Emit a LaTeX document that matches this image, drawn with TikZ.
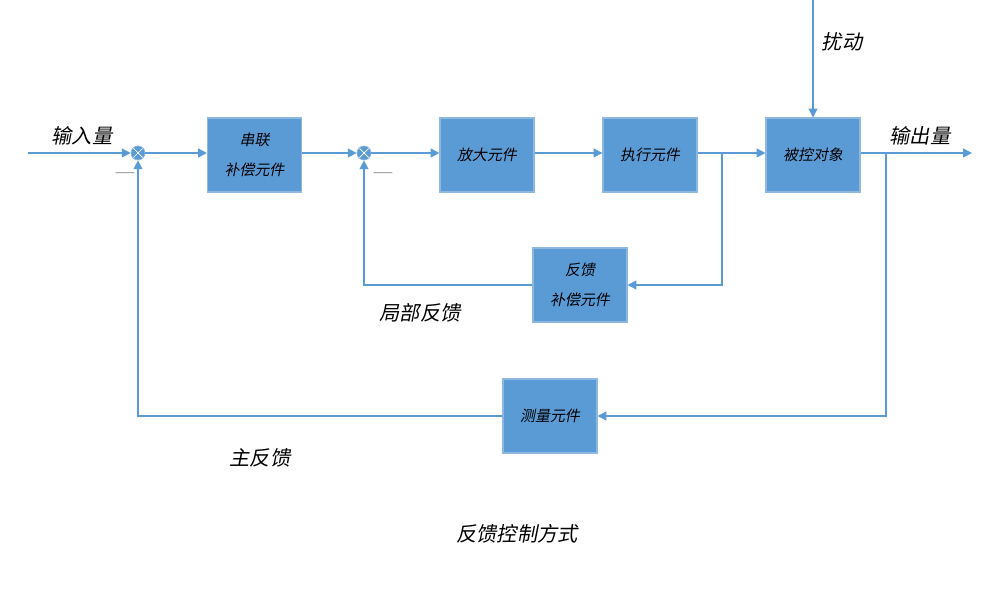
\documentclass[tikz,border=0pt]{standalone}
\usepackage{fontspec}
\newfontfamily\cjk{Noto Sans CJK SC}[FakeSlant=0.2]
\usetikzlibrary{arrows.meta}
\definecolor{bl}{HTML}{5B9BD5}
\definecolor{bd}{HTML}{8FB8E0}
\begin{document}
\begin{tikzpicture}[x=0.02cm,y=-0.02cm,
 blk/.style={draw=bd,fill=bl,line width=0.6pt,minimum width=1.88cm,minimum height=1.48cm,align=center,font=\cjk\fontsize{8.5}{17}\selectfont,inner sep=0},
 sum/.style={circle,fill=bl,draw=bd,minimum size=0.28cm,inner sep=0,path picture={\draw[white,line width=0.4pt](path picture bounding box.north west)--(path picture bounding box.south east)(path picture bounding box.north east)--(path picture bounding box.south west);}},
 ln/.style={draw=bl,line width=0.8pt},
 ar/.style={ln,-{Triangle[length=5pt,width=5pt]}},
 lab/.style={font=\cjk\fontsize{11.5}{13}\selectfont}]
\useasboundingbox (0,0) rectangle (1000,601);
\node[sum] (s1) at (138,153) {};
\node[sum] (s2) at (364,153) {};
\node[blk] (b1) at (254.5,155) {串联\\补偿元件};
\node[blk] (b2) at (487,155) {放大元件};
\node[blk] (b3) at (650,155) {执行元件};
\node[blk] (b4) at (813,155) {被控对象};
\node[blk] (b5) at (580,285) {反馈\\补偿元件};
\node[blk] (b6) at (550,416) {测量元件};
\coordinate (in) at (28,153);
\coordinate (out) at (972,153);
\coordinate (dtop) at (813,0);
\coordinate (j1) at (722,153);
\coordinate (j2) at (886,153);
\draw[ar] (in) -- (s1);
\draw[ar] (s1) -- (b1.west|-s1);
\draw[ar] (b1.east|-s2) -- (s2);
\draw[ar] (s2) -- (b2.west|-s2);
\draw[ar] (b2.east|-s2) -- (b3.west|-s2);
\draw[ar] (b3.east|-s2) -- (b4.west|-s2);
\draw[ar] (b4.east|-s2) -- (out);
\draw[ar] (dtop) -- (b4.north);
\draw[ar] (j1) |- (b5.east);
\draw[ar] (b5.west) -| (s2.south);
\draw[ar] (j2) |- (b6.east);
\draw[ar] (b6.west) -| (s1.south);
\node[lab] (t1) at (82,136) {输入量};
\node[lab] (t2) at (920,136) {输出量};
\node[lab] (t3) at (842,42) {扰动};
\node[lab] (t4) at (420,313) {局部反馈};
\node[lab] (t5) at (260,458) {主反馈};
\node[lab] (t6) at (517,534) {反馈控制方式};
\node[font=\fontsize{11}{12}\selectfont] (m1) at (125,176) {—};
\node[font=\fontsize{11}{12}\selectfont] (m2) at (383,176) {—};
\end{tikzpicture}
\end{document}
